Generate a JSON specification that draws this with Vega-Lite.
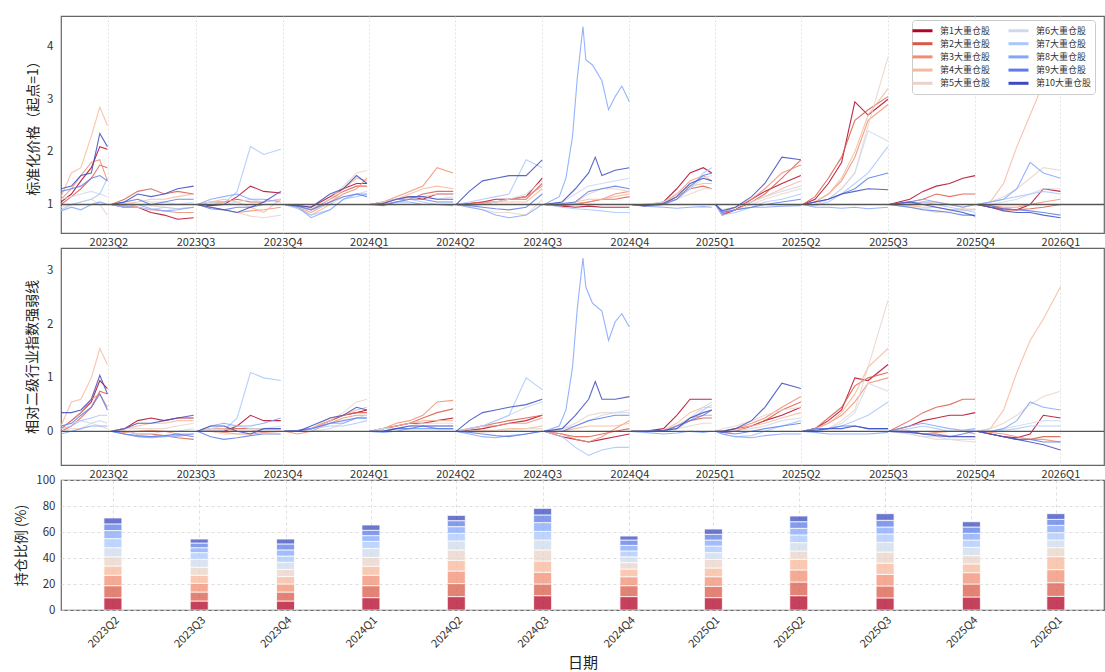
{
  "$schema": "https://vega.github.io/schema/vega-lite/v6.json",
  "padding": {"left": 13, "top": 15, "right": 0, "bottom": 0},
  "background": "white",
  "bounds": "flush",
  "spacing": 15,
  "config": {
    "font": "Noto Sans CJK SC",
    "view": {"stroke": "#666666", "strokeWidth": 1.2},
    "axis": {"ticks": false, "domain": false, "labelColor": "#333333", "titleColor": "#222222", "labelFont": "Noto Sans CJK SC", "titleFont": "Noto Sans CJK SC", "titleFontWeight": "normal"}
  },
  "resolve": {"scale": {"color": "independent"}, "legend": {"color": "independent"}},
  "datasets": {
    "px": [
      {"d":"2023-04-03","s":1,"a":1,"b":0},{"d":"2023-05-11","s":1,"a":1.05,"b":0.05},{"d":"2023-05-22","s":1,"a":1.2,"b":0.2},{"d":"2023-06-01","s":1,"a":1.45,"b":0.35},{"d":"2023-06-12","s":1,"a":1.7,"b":0.55},{"d":"2023-06-21","s":1,"a":2.1,"b":0.95},{"d":"2023-06-29","s":1,"a":2.05,"b":0.8},
      {"d":"2023-04-03","s":2,"a":1,"b":0},{"d":"2023-05-11","s":2,"a":1,"b":0},{"d":"2023-05-22","s":2,"a":1.15,"b":0.1},{"d":"2023-06-01","s":2,"a":1.3,"b":0.25},{"d":"2023-06-12","s":2,"a":1.5,"b":0.45},{"d":"2023-06-21","s":2,"a":1.75,"b":0.75},{"d":"2023-06-29","s":2,"a":1.7,"b":0.7},
      {"d":"2023-04-03","s":3,"a":1,"b":0},{"d":"2023-05-11","s":3,"a":1.1,"b":0.05},{"d":"2023-05-22","s":3,"a":1.3,"b":0.2},{"d":"2023-06-01","s":3,"a":1.55,"b":0.35},{"d":"2023-06-12","s":3,"a":1.8,"b":0.6},{"d":"2023-06-21","s":3,"a":1.85,"b":0.7},{"d":"2023-06-29","s":3,"a":1.45,"b":0.45},
      {"d":"2023-04-03","s":4,"a":1,"b":0},{"d":"2023-05-11","s":4,"a":1.15,"b":0.1},{"d":"2023-05-22","s":4,"a":1.6,"b":0.55},{"d":"2023-06-01","s":4,"a":1.7,"b":0.6},{"d":"2023-06-12","s":4,"a":2.3,"b":1},{"d":"2023-06-21","s":4,"a":2.85,"b":1.55},{"d":"2023-06-29","s":4,"a":2.5,"b":1.25},
      {"d":"2023-04-03","s":5,"a":1,"b":0},{"d":"2023-05-11","s":5,"a":0.95,"b":0},{"d":"2023-05-22","s":5,"a":1,"b":0.05},{"d":"2023-06-01","s":5,"a":1.05,"b":0.05},{"d":"2023-06-12","s":5,"a":1.1,"b":0.15},{"d":"2023-06-21","s":5,"a":1,"b":0.1},{"d":"2023-06-29","s":5,"a":0.8,"b":0.05},
      {"d":"2023-04-03","s":6,"a":1,"b":0},{"d":"2023-05-11","s":6,"a":1.1,"b":0.1},{"d":"2023-05-22","s":6,"a":1.15,"b":0.15},{"d":"2023-06-01","s":6,"a":1.2,"b":0.2},{"d":"2023-06-12","s":6,"a":1.25,"b":0.15},{"d":"2023-06-21","s":6,"a":1.2,"b":0.2},{"d":"2023-06-29","s":6,"a":1.15,"b":0.15},
      {"d":"2023-04-03","s":7,"a":1,"b":0},{"d":"2023-05-11","s":7,"a":0.9,"b":0.05},{"d":"2023-05-22","s":7,"a":1,"b":0.1},{"d":"2023-06-01","s":7,"a":1.05,"b":0.2},{"d":"2023-06-12","s":7,"a":1.1,"b":0.25},{"d":"2023-06-21","s":7,"a":1.2,"b":0.3},{"d":"2023-06-29","s":7,"a":1.5,"b":0.3},
      {"d":"2023-04-03","s":8,"a":1,"b":0},{"d":"2023-05-11","s":8,"a":0.88,"b":-0.05},{"d":"2023-05-22","s":8,"a":0.95,"b":0},{"d":"2023-06-01","s":8,"a":0.9,"b":0.05},{"d":"2023-06-12","s":8,"a":1,"b":0.1},{"d":"2023-06-21","s":8,"a":1.05,"b":0.1},{"d":"2023-06-29","s":8,"a":1,"b":0.1},
      {"d":"2023-04-03","s":9,"a":1,"b":0},{"d":"2023-05-11","s":9,"a":1.25,"b":0.1},{"d":"2023-05-22","s":9,"a":1.3,"b":0.15},{"d":"2023-06-01","s":9,"a":1.35,"b":0.3},{"d":"2023-06-12","s":9,"a":1.5,"b":0.45},{"d":"2023-06-21","s":9,"a":1.55,"b":0.7},{"d":"2023-06-29","s":9,"a":1.45,"b":0.4},
      {"d":"2023-04-03","s":10,"a":1,"b":0},{"d":"2023-05-11","s":10,"a":1.3,"b":0.35},{"d":"2023-05-22","s":10,"a":1.35,"b":0.35},{"d":"2023-06-01","s":10,"a":1.55,"b":0.4},{"d":"2023-06-12","s":10,"a":1.6,"b":0.6},{"d":"2023-06-21","s":10,"a":2.35,"b":1.05},{"d":"2023-06-29","s":10,"a":2.1,"b":0.7},

      {"d":"2023-07-03","s":1,"a":1,"b":0},{"d":"2023-07-17","s":1,"a":0.95,"b":0.05},{"d":"2023-07-31","s":1,"a":0.95,"b":0.2},{"d":"2023-08-14","s":1,"a":0.85,"b":0.25},{"d":"2023-08-28","s":1,"a":0.8,"b":0.2},{"d":"2023-09-11","s":1,"a":0.72,"b":0.25},{"d":"2023-09-28","s":1,"a":0.75,"b":0.25},
      {"d":"2023-07-03","s":2,"a":1,"b":0},{"d":"2023-07-17","s":2,"a":1.1,"b":0},{"d":"2023-07-31","s":2,"a":1.25,"b":-0.05},{"d":"2023-08-14","s":2,"a":1.3,"b":-0.05},{"d":"2023-08-28","s":2,"a":1.2,"b":-0.08},{"d":"2023-09-11","s":2,"a":1.25,"b":-0.12},{"d":"2023-09-28","s":2,"a":1.2,"b":-0.15},
      {"d":"2023-07-03","s":3,"a":1,"b":0},{"d":"2023-07-17","s":3,"a":0.98,"b":-0.02},{"d":"2023-07-31","s":3,"a":0.95,"b":0},{"d":"2023-08-14","s":3,"a":0.9,"b":0.02},{"d":"2023-08-28","s":3,"a":0.88,"b":0},{"d":"2023-09-11","s":3,"a":0.85,"b":-0.05},{"d":"2023-09-28","s":3,"a":0.85,"b":-0.05},
      {"d":"2023-07-03","s":4,"a":1,"b":0},{"d":"2023-07-17","s":4,"a":1.02,"b":0.05},{"d":"2023-07-31","s":4,"a":1.05,"b":0.1},{"d":"2023-08-14","s":4,"a":1.1,"b":0.15},{"d":"2023-08-28","s":4,"a":1.1,"b":0.15},{"d":"2023-09-11","s":4,"a":1.15,"b":0.2},{"d":"2023-09-28","s":4,"a":1.2,"b":0.2},
      {"d":"2023-07-03","s":5,"a":1,"b":0},{"d":"2023-07-17","s":5,"a":1.02,"b":0.05},{"d":"2023-07-31","s":5,"a":1,"b":0.05},{"d":"2023-08-14","s":5,"a":0.98,"b":0.05},{"d":"2023-08-28","s":5,"a":0.95,"b":0.05},{"d":"2023-09-11","s":5,"a":0.92,"b":0.1},{"d":"2023-09-28","s":5,"a":0.95,"b":0.15},
      {"d":"2023-07-03","s":6,"a":1,"b":0},{"d":"2023-07-17","s":6,"a":1.05,"b":0},{"d":"2023-07-31","s":6,"a":1.1,"b":-0.05},{"d":"2023-08-14","s":6,"a":1.05,"b":-0.05},{"d":"2023-08-28","s":6,"a":1.05,"b":0},{"d":"2023-09-11","s":6,"a":1,"b":0},{"d":"2023-09-28","s":6,"a":1.05,"b":0.05},
      {"d":"2023-07-03","s":7,"a":1,"b":0},{"d":"2023-07-17","s":7,"a":0.95,"b":-0.05},{"d":"2023-07-31","s":7,"a":0.95,"b":-0.1},{"d":"2023-08-14","s":7,"a":0.9,"b":-0.1},{"d":"2023-08-28","s":7,"a":0.95,"b":-0.08},{"d":"2023-09-11","s":7,"a":0.92,"b":-0.1},{"d":"2023-09-28","s":7,"a":0.95,"b":-0.05},
      {"d":"2023-07-03","s":8,"a":1,"b":0},{"d":"2023-07-17","s":8,"a":0.95,"b":-0.05},{"d":"2023-07-31","s":8,"a":1,"b":-0.1},{"d":"2023-08-14","s":8,"a":0.92,"b":-0.12},{"d":"2023-08-28","s":8,"a":0.88,"b":-0.1},{"d":"2023-09-11","s":8,"a":0.9,"b":-0.08},{"d":"2023-09-28","s":8,"a":0.95,"b":-0.05},
      {"d":"2023-07-03","s":9,"a":1,"b":0},{"d":"2023-07-17","s":9,"a":1.05,"b":-0.05},{"d":"2023-07-31","s":9,"a":1.1,"b":-0.08},{"d":"2023-08-14","s":9,"a":1,"b":-0.1},{"d":"2023-08-28","s":9,"a":1.05,"b":-0.08},{"d":"2023-09-11","s":9,"a":1.1,"b":-0.05},{"d":"2023-09-28","s":9,"a":1.1,"b":-0.1},
      {"d":"2023-07-03","s":10,"a":1,"b":0},{"d":"2023-07-17","s":10,"a":1.05,"b":0.05},{"d":"2023-07-31","s":10,"a":1.2,"b":0.15},{"d":"2023-08-14","s":10,"a":1.15,"b":0.15},{"d":"2023-08-28","s":10,"a":1.2,"b":0.2},{"d":"2023-09-11","s":10,"a":1.3,"b":0.25},{"d":"2023-09-28","s":10,"a":1.35,"b":0.3},

      {"d":"2023-10-02","s":1,"a":1,"b":0},{"d":"2023-10-16","s":1,"a":0.98,"b":0},{"d":"2023-10-30","s":1,"a":1,"b":0},{"d":"2023-11-13","s":1,"a":1.15,"b":0.1},{"d":"2023-11-27","s":1,"a":1.35,"b":0.3},{"d":"2023-12-11","s":1,"a":1.25,"b":0.2},{"d":"2023-12-29","s":1,"a":1.22,"b":0.2},
      {"d":"2023-10-02","s":2,"a":1,"b":0},{"d":"2023-10-16","s":2,"a":1.05,"b":0.05},{"d":"2023-10-30","s":2,"a":1.05,"b":0.05},{"d":"2023-11-13","s":2,"a":1.1,"b":0.05},{"d":"2023-11-27","s":2,"a":1.05,"b":0.05},{"d":"2023-12-11","s":2,"a":1.05,"b":0.05},{"d":"2023-12-29","s":2,"a":1.1,"b":0.05},
      {"d":"2023-10-02","s":3,"a":1,"b":0},{"d":"2023-10-16","s":3,"a":0.95,"b":0},{"d":"2023-10-30","s":3,"a":0.9,"b":-0.02},{"d":"2023-11-13","s":3,"a":0.85,"b":-0.05},{"d":"2023-11-27","s":3,"a":0.88,"b":-0.05},{"d":"2023-12-11","s":3,"a":0.9,"b":-0.02},{"d":"2023-12-29","s":3,"a":0.95,"b":0},
      {"d":"2023-10-02","s":4,"a":1,"b":0},{"d":"2023-10-16","s":4,"a":1.05,"b":0.05},{"d":"2023-10-30","s":4,"a":1.1,"b":0.05},{"d":"2023-11-13","s":4,"a":1.05,"b":0},{"d":"2023-11-27","s":4,"a":0.95,"b":0},{"d":"2023-12-11","s":4,"a":0.85,"b":0.05},{"d":"2023-12-29","s":4,"a":1.1,"b":0.05},
      {"d":"2023-10-02","s":5,"a":1,"b":0},{"d":"2023-10-16","s":5,"a":0.95,"b":0},{"d":"2023-10-30","s":5,"a":0.9,"b":-0.05},{"d":"2023-11-13","s":5,"a":0.85,"b":-0.05},{"d":"2023-11-27","s":5,"a":0.78,"b":-0.03},{"d":"2023-12-11","s":5,"a":0.75,"b":0},{"d":"2023-12-29","s":5,"a":0.8,"b":0},
      {"d":"2023-10-02","s":6,"a":1,"b":0},{"d":"2023-10-16","s":6,"a":1.05,"b":0.05},{"d":"2023-10-30","s":6,"a":1,"b":0.1},{"d":"2023-11-13","s":6,"a":1.05,"b":0.1},{"d":"2023-11-27","s":6,"a":1.1,"b":0.05},{"d":"2023-12-11","s":6,"a":1.05,"b":0.05},{"d":"2023-12-29","s":6,"a":1.1,"b":0.1},
      {"d":"2023-10-02","s":7,"a":1,"b":0},{"d":"2023-10-16","s":7,"a":1,"b":0},{"d":"2023-10-30","s":7,"a":1.02,"b":0.02},{"d":"2023-11-13","s":7,"a":1.25,"b":0.25},{"d":"2023-11-27","s":7,"a":2.1,"b":1.1},{"d":"2023-12-11","s":7,"a":1.95,"b":1},{"d":"2023-12-29","s":7,"a":2.05,"b":0.95},
      {"d":"2023-10-02","s":8,"a":1,"b":0},{"d":"2023-10-16","s":8,"a":1.1,"b":0.1},{"d":"2023-10-30","s":8,"a":1.15,"b":0.15},{"d":"2023-11-13","s":8,"a":1.2,"b":0.1},{"d":"2023-11-27","s":8,"a":1.1,"b":0.1},{"d":"2023-12-11","s":8,"a":1.1,"b":0.15},{"d":"2023-12-29","s":8,"a":1.05,"b":0.25},
      {"d":"2023-10-02","s":9,"a":1,"b":0},{"d":"2023-10-16","s":9,"a":0.92,"b":-0.1},{"d":"2023-10-30","s":9,"a":0.9,"b":-0.15},{"d":"2023-11-13","s":9,"a":0.95,"b":-0.12},{"d":"2023-11-27","s":9,"a":0.95,"b":-0.08},{"d":"2023-12-11","s":9,"a":1,"b":-0.05},{"d":"2023-12-29","s":9,"a":1,"b":-0.05},
      {"d":"2023-10-02","s":10,"a":1,"b":0},{"d":"2023-10-16","s":10,"a":0.95,"b":0.1},{"d":"2023-10-30","s":10,"a":0.9,"b":0.1},{"d":"2023-11-13","s":10,"a":0.85,"b":0},{"d":"2023-11-27","s":10,"a":0.95,"b":-0.05},{"d":"2023-12-11","s":10,"a":1.05,"b":0.05},{"d":"2023-12-29","s":10,"a":1.25,"b":0.05},

      {"d":"2024-01-02","s":1,"a":1,"b":0},{"d":"2024-01-16","s":1,"a":0.98,"b":0},{"d":"2024-01-30","s":1,"a":0.95,"b":0.05},{"d":"2024-02-19","s":1,"a":1.15,"b":0.2},{"d":"2024-03-04","s":1,"a":1.3,"b":0.3},{"d":"2024-03-18","s":1,"a":1.4,"b":0.35},{"d":"2024-03-29","s":1,"a":1.4,"b":0.4},
      {"d":"2024-01-02","s":2,"a":1,"b":0},{"d":"2024-01-16","s":2,"a":0.97,"b":0},{"d":"2024-01-30","s":2,"a":0.9,"b":0.05},{"d":"2024-02-19","s":2,"a":1.1,"b":0.2},{"d":"2024-03-04","s":2,"a":1.25,"b":0.3},{"d":"2024-03-18","s":2,"a":1.35,"b":0.35},{"d":"2024-03-29","s":2,"a":1.35,"b":0.35},
      {"d":"2024-01-02","s":3,"a":1,"b":0},{"d":"2024-01-16","s":3,"a":0.95,"b":-0.05},{"d":"2024-01-30","s":3,"a":0.85,"b":0},{"d":"2024-02-19","s":3,"a":1.05,"b":0.15},{"d":"2024-03-04","s":3,"a":1.2,"b":0.25},{"d":"2024-03-18","s":3,"a":1.3,"b":0.3},{"d":"2024-03-29","s":3,"a":1.5,"b":0.3},
      {"d":"2024-01-02","s":4,"a":1,"b":0},{"d":"2024-01-16","s":4,"a":0.95,"b":0},{"d":"2024-01-30","s":4,"a":0.8,"b":0.05},{"d":"2024-02-19","s":4,"a":1,"b":0.25},{"d":"2024-03-04","s":4,"a":1.3,"b":0.3},{"d":"2024-03-18","s":4,"a":1.5,"b":0.4},{"d":"2024-03-29","s":4,"a":1.45,"b":0.45},
      {"d":"2024-01-02","s":5,"a":1,"b":0},{"d":"2024-01-16","s":5,"a":0.98,"b":0},{"d":"2024-01-30","s":5,"a":0.92,"b":0.05},{"d":"2024-02-19","s":5,"a":1.1,"b":0.2},{"d":"2024-03-04","s":5,"a":1.35,"b":0.35},{"d":"2024-03-18","s":5,"a":1.6,"b":0.55},{"d":"2024-03-29","s":5,"a":1.65,"b":0.6},
      {"d":"2024-01-02","s":6,"a":1,"b":0},{"d":"2024-01-16","s":6,"a":0.95,"b":0},{"d":"2024-01-30","s":6,"a":0.9,"b":0},{"d":"2024-02-19","s":6,"a":1,"b":0.05},{"d":"2024-03-04","s":6,"a":1.15,"b":0.15},{"d":"2024-03-18","s":6,"a":1.2,"b":0.25},{"d":"2024-03-29","s":6,"a":1.25,"b":0.3},
      {"d":"2024-01-02","s":7,"a":1,"b":0},{"d":"2024-01-16","s":7,"a":0.92,"b":0},{"d":"2024-01-30","s":7,"a":0.8,"b":0.05},{"d":"2024-02-19","s":7,"a":0.9,"b":0.1},{"d":"2024-03-04","s":7,"a":1.1,"b":0.1},{"d":"2024-03-18","s":7,"a":1.15,"b":0.15},{"d":"2024-03-29","s":7,"a":1.2,"b":0.2},
      {"d":"2024-01-02","s":8,"a":1,"b":0},{"d":"2024-01-16","s":8,"a":0.95,"b":0},{"d":"2024-01-30","s":8,"a":0.75,"b":0.05},{"d":"2024-02-19","s":8,"a":0.9,"b":0.15},{"d":"2024-03-04","s":8,"a":1.1,"b":0.15},{"d":"2024-03-18","s":8,"a":1.2,"b":0.25},{"d":"2024-03-29","s":8,"a":1.2,"b":0.25},
      {"d":"2024-01-02","s":9,"a":1,"b":0},{"d":"2024-01-16","s":9,"a":0.97,"b":0.02},{"d":"2024-01-30","s":9,"a":0.9,"b":0.05},{"d":"2024-02-19","s":9,"a":1.05,"b":0.15},{"d":"2024-03-04","s":9,"a":1.15,"b":0.2},{"d":"2024-03-18","s":9,"a":1.2,"b":0.25},{"d":"2024-03-29","s":9,"a":1.15,"b":0.25},
      {"d":"2024-01-02","s":10,"a":1,"b":0},{"d":"2024-01-16","s":10,"a":0.98,"b":0},{"d":"2024-01-30","s":10,"a":0.95,"b":0.1},{"d":"2024-02-19","s":10,"a":1.2,"b":0.25},{"d":"2024-03-04","s":10,"a":1.3,"b":0.3},{"d":"2024-03-18","s":10,"a":1.55,"b":0.45},{"d":"2024-03-29","s":10,"a":1.4,"b":0.4},

      {"d":"2024-04-01","s":1,"a":1,"b":0},{"d":"2024-04-15","s":1,"a":1.05,"b":0.05},{"d":"2024-04-29","s":1,"a":1.1,"b":0.1},{"d":"2024-05-13","s":1,"a":1.15,"b":0.15},{"d":"2024-05-27","s":1,"a":1.1,"b":0.15},{"d":"2024-06-11","s":1,"a":1.2,"b":0.2},{"d":"2024-06-28","s":1,"a":1.2,"b":0.25},
      {"d":"2024-04-01","s":2,"a":1,"b":0},{"d":"2024-04-15","s":2,"a":1.02,"b":0.05},{"d":"2024-04-29","s":2,"a":1.1,"b":0.1},{"d":"2024-05-13","s":2,"a":1.1,"b":0.15},{"d":"2024-05-27","s":2,"a":1.2,"b":0.25},{"d":"2024-06-11","s":2,"a":1.25,"b":0.35},{"d":"2024-06-28","s":2,"a":1.25,"b":0.42},
      {"d":"2024-04-01","s":3,"a":1,"b":0},{"d":"2024-04-15","s":3,"a":1.05,"b":0.05},{"d":"2024-04-29","s":3,"a":1.15,"b":0.15},{"d":"2024-05-13","s":3,"a":1.25,"b":0.2},{"d":"2024-05-27","s":3,"a":1.35,"b":0.3},{"d":"2024-06-11","s":3,"a":1.7,"b":0.55},{"d":"2024-06-28","s":3,"a":1.6,"b":0.58},
      {"d":"2024-04-01","s":4,"a":1,"b":0},{"d":"2024-04-15","s":4,"a":1.05,"b":0.05},{"d":"2024-04-29","s":4,"a":1.1,"b":0.1},{"d":"2024-05-13","s":4,"a":1.2,"b":0.15},{"d":"2024-05-27","s":4,"a":1.3,"b":0.2},{"d":"2024-06-11","s":4,"a":1.35,"b":0.2},{"d":"2024-06-28","s":4,"a":1.3,"b":0.2},
      {"d":"2024-04-01","s":5,"a":1,"b":0},{"d":"2024-04-15","s":5,"a":1,"b":0.05},{"d":"2024-04-29","s":5,"a":1.05,"b":0.05},{"d":"2024-05-13","s":5,"a":1.1,"b":0.1},{"d":"2024-05-27","s":5,"a":1.15,"b":0.15},{"d":"2024-06-11","s":5,"a":1.2,"b":0.15},{"d":"2024-06-28","s":5,"a":1.2,"b":0.15},
      {"d":"2024-04-01","s":6,"a":1,"b":0},{"d":"2024-04-15","s":6,"a":1.05,"b":0.05},{"d":"2024-04-29","s":6,"a":1.1,"b":0.05},{"d":"2024-05-13","s":6,"a":1.15,"b":0.1},{"d":"2024-05-27","s":6,"a":1.15,"b":0.1},{"d":"2024-06-11","s":6,"a":1.1,"b":0.1},{"d":"2024-06-28","s":6,"a":1.15,"b":0.1},
      {"d":"2024-04-01","s":7,"a":1,"b":0},{"d":"2024-04-15","s":7,"a":1,"b":0},{"d":"2024-04-29","s":7,"a":1.05,"b":0.05},{"d":"2024-05-13","s":7,"a":1.1,"b":0.05},{"d":"2024-05-27","s":7,"a":1.05,"b":0.05},{"d":"2024-06-11","s":7,"a":1,"b":0.05},{"d":"2024-06-28","s":7,"a":1,"b":0.05},
      {"d":"2024-04-01","s":8,"a":1,"b":0},{"d":"2024-04-15","s":8,"a":1,"b":-0.02},{"d":"2024-04-29","s":8,"a":1.05,"b":0},{"d":"2024-05-13","s":8,"a":1.05,"b":0.05},{"d":"2024-05-27","s":8,"a":1,"b":0.05},{"d":"2024-06-11","s":8,"a":1,"b":0.05},{"d":"2024-06-28","s":8,"a":0.98,"b":0.05},
      {"d":"2024-04-01","s":9,"a":1,"b":0},{"d":"2024-04-15","s":9,"a":0.98,"b":0},{"d":"2024-04-29","s":9,"a":1.05,"b":0.05},{"d":"2024-05-13","s":9,"a":1.1,"b":0.05},{"d":"2024-05-27","s":9,"a":1.1,"b":0.1},{"d":"2024-06-11","s":9,"a":1.05,"b":0.05},{"d":"2024-06-28","s":9,"a":1.05,"b":0.05},
      {"d":"2024-04-01","s":10,"a":1,"b":0},{"d":"2024-04-15","s":10,"a":1.02,"b":0},{"d":"2024-04-29","s":10,"a":1.1,"b":0.05},{"d":"2024-05-13","s":10,"a":1.15,"b":0.1},{"d":"2024-05-27","s":10,"a":1.15,"b":0.1},{"d":"2024-06-11","s":10,"a":1.1,"b":0.1},{"d":"2024-06-28","s":10,"a":1.1,"b":0.1},

      {"d":"2024-07-01","s":1,"a":1,"b":0},{"d":"2024-07-15","s":1,"a":1.02,"b":0.02},{"d":"2024-07-29","s":1,"a":1.05,"b":0.05},{"d":"2024-08-12","s":1,"a":1.1,"b":0.1},{"d":"2024-08-26","s":1,"a":1.1,"b":0.15},{"d":"2024-09-13","s":1,"a":1.15,"b":0.2},{"d":"2024-09-30","s":1,"a":1.5,"b":0.3},
      {"d":"2024-07-01","s":2,"a":1,"b":0},{"d":"2024-07-15","s":2,"a":1.02,"b":0.05},{"d":"2024-07-29","s":2,"a":1.05,"b":0.1},{"d":"2024-08-12","s":2,"a":1.05,"b":0.15},{"d":"2024-08-26","s":2,"a":1.1,"b":0.2},{"d":"2024-09-13","s":2,"a":1.1,"b":0.25},{"d":"2024-09-30","s":2,"a":1.4,"b":0.3},
      {"d":"2024-07-01","s":3,"a":1,"b":0},{"d":"2024-07-15","s":3,"a":1,"b":0.05},{"d":"2024-07-29","s":3,"a":1.02,"b":0.1},{"d":"2024-08-12","s":3,"a":1.05,"b":0.1},{"d":"2024-08-26","s":3,"a":1.1,"b":0.15},{"d":"2024-09-13","s":3,"a":1.15,"b":0.15},{"d":"2024-09-30","s":3,"a":1.35,"b":0.25},
      {"d":"2024-07-01","s":4,"a":1,"b":0},{"d":"2024-07-15","s":4,"a":0.98,"b":0},{"d":"2024-07-29","s":4,"a":1,"b":0.02},{"d":"2024-08-12","s":4,"a":1.05,"b":0.02},{"d":"2024-08-26","s":4,"a":1.05,"b":0.05},{"d":"2024-09-13","s":4,"a":1.05,"b":0.05},{"d":"2024-09-30","s":4,"a":1.3,"b":0.1},
      {"d":"2024-07-01","s":5,"a":1,"b":0},{"d":"2024-07-15","s":5,"a":0.95,"b":0},{"d":"2024-07-29","s":5,"a":0.9,"b":-0.02},{"d":"2024-08-12","s":5,"a":0.85,"b":0},{"d":"2024-08-26","s":5,"a":0.85,"b":0.02},{"d":"2024-09-13","s":5,"a":0.8,"b":0.05},{"d":"2024-09-30","s":5,"a":1.1,"b":0.05},
      {"d":"2024-07-01","s":6,"a":1,"b":0},{"d":"2024-07-15","s":6,"a":0.98,"b":0.05},{"d":"2024-07-29","s":6,"a":1,"b":0.1},{"d":"2024-08-12","s":6,"a":1.05,"b":0.2},{"d":"2024-08-26","s":6,"a":1.1,"b":0.3},{"d":"2024-09-13","s":6,"a":1.2,"b":0.45},{"d":"2024-09-30","s":6,"a":1.45,"b":0.55},
      {"d":"2024-07-01","s":7,"a":1,"b":0},{"d":"2024-07-15","s":7,"a":1.05,"b":0.05},{"d":"2024-07-29","s":7,"a":1.1,"b":0.1},{"d":"2024-08-12","s":7,"a":1.15,"b":0.2},{"d":"2024-08-26","s":7,"a":1.2,"b":0.3},{"d":"2024-09-13","s":7,"a":1.85,"b":1},{"d":"2024-09-30","s":7,"a":1.7,"b":0.78},
      {"d":"2024-07-01","s":8,"a":1,"b":0},{"d":"2024-07-15","s":8,"a":0.95,"b":-0.05},{"d":"2024-07-29","s":8,"a":0.9,"b":-0.1},{"d":"2024-08-12","s":8,"a":0.8,"b":-0.12},{"d":"2024-08-26","s":8,"a":0.75,"b":-0.08},{"d":"2024-09-13","s":8,"a":0.8,"b":-0.05},{"d":"2024-09-30","s":8,"a":1,"b":0},
      {"d":"2024-07-01","s":9,"a":1,"b":0},{"d":"2024-07-15","s":9,"a":0.98,"b":-0.02},{"d":"2024-07-29","s":9,"a":0.95,"b":-0.05},{"d":"2024-08-12","s":9,"a":0.92,"b":-0.08},{"d":"2024-08-26","s":9,"a":0.9,"b":-0.1},{"d":"2024-09-13","s":9,"a":0.95,"b":-0.05},{"d":"2024-09-30","s":9,"a":1.2,"b":0},
      {"d":"2024-07-01","s":10,"a":1,"b":0},{"d":"2024-07-15","s":10,"a":1.25,"b":0.2},{"d":"2024-07-29","s":10,"a":1.45,"b":0.35},{"d":"2024-08-12","s":10,"a":1.5,"b":0.4},{"d":"2024-08-26","s":10,"a":1.55,"b":0.45},{"d":"2024-09-13","s":10,"a":1.55,"b":0.5},{"d":"2024-09-30","s":10,"a":1.85,"b":0.6},

      {"d":"2024-10-02","s":1,"a":1,"b":0},{"d":"2024-10-21","s":1,"a":0.97,"b":-0.1},{"d":"2024-11-04","s":1,"a":0.95,"b":-0.15},{"d":"2024-11-18","s":1,"a":0.97,"b":-0.2},{"d":"2024-12-02","s":1,"a":0.95,"b":-0.15},{"d":"2024-12-16","s":1,"a":0.95,"b":-0.1},{"d":"2024-12-31","s":1,"a":0.95,"b":-0.05},
      {"d":"2024-10-02","s":2,"a":1,"b":0},{"d":"2024-10-21","s":2,"a":0.98,"b":-0.05},{"d":"2024-11-04","s":2,"a":1,"b":-0.1},{"d":"2024-11-18","s":2,"a":1.05,"b":-0.1},{"d":"2024-12-02","s":2,"a":1.1,"b":-0.05},{"d":"2024-12-16","s":2,"a":1.1,"b":0},{"d":"2024-12-31","s":2,"a":1.15,"b":0.05},
      {"d":"2024-10-02","s":3,"a":1,"b":0},{"d":"2024-10-21","s":3,"a":1,"b":-0.05},{"d":"2024-11-04","s":3,"a":1.02,"b":-0.15},{"d":"2024-11-18","s":3,"a":1.05,"b":-0.2},{"d":"2024-12-02","s":3,"a":1.1,"b":-0.1},{"d":"2024-12-16","s":3,"a":1.2,"b":0.05},{"d":"2024-12-31","s":3,"a":1.25,"b":0.2},
      {"d":"2024-10-02","s":4,"a":1,"b":0},{"d":"2024-10-21","s":4,"a":1,"b":0},{"d":"2024-11-04","s":4,"a":1.05,"b":0.05},{"d":"2024-11-18","s":4,"a":1.1,"b":0.1},{"d":"2024-12-02","s":4,"a":1.1,"b":0.1},{"d":"2024-12-16","s":4,"a":1.15,"b":0.1},{"d":"2024-12-31","s":4,"a":1.2,"b":0.15},
      {"d":"2024-10-02","s":5,"a":1,"b":0},{"d":"2024-10-21","s":5,"a":1,"b":0.05},{"d":"2024-11-04","s":5,"a":1.05,"b":0.15},{"d":"2024-11-18","s":5,"a":1.2,"b":0.3},{"d":"2024-12-02","s":5,"a":1.3,"b":0.35},{"d":"2024-12-16","s":5,"a":1.3,"b":0.35},{"d":"2024-12-31","s":5,"a":1.25,"b":0.4},
      {"d":"2024-10-02","s":6,"a":1,"b":0},{"d":"2024-10-21","s":6,"a":1.05,"b":0.05},{"d":"2024-11-04","s":6,"a":1.2,"b":0.1},{"d":"2024-11-18","s":6,"a":1.35,"b":0.2},{"d":"2024-12-02","s":6,"a":1.4,"b":0.3},{"d":"2024-12-16","s":6,"a":1.45,"b":0.35},{"d":"2024-12-31","s":6,"a":1.5,"b":0.35},
      {"d":"2024-10-02","s":7,"a":1,"b":0},{"d":"2024-10-21","s":7,"a":0.95,"b":-0.1},{"d":"2024-11-04","s":7,"a":0.92,"b":-0.3},{"d":"2024-11-18","s":7,"a":0.9,"b":-0.45},{"d":"2024-12-02","s":7,"a":0.88,"b":-0.35},{"d":"2024-12-16","s":7,"a":0.85,"b":-0.3},{"d":"2024-12-31","s":7,"a":0.85,"b":-0.3},
      {"d":"2024-10-02","s":8,"a":1,"b":0},{"d":"2024-10-18","s":8,"a":1.15,"b":0.1},{"d":"2024-10-25","s":8,"a":1.5,"b":0.4},{"d":"2024-11-01","s":8,"a":2.3,"b":1.2},{"d":"2024-11-06","s":8,"a":3.4,"b":2.3},{"d":"2024-11-12","s":8,"a":4.38,"b":3.24},{"d":"2024-11-15","s":8,"a":3.75,"b":2.7},{"d":"2024-11-22","s":8,"a":3.65,"b":2.4},{"d":"2024-12-02","s":8,"a":3.35,"b":2.25},{"d":"2024-12-09","s":8,"a":2.8,"b":1.7},{"d":"2024-12-16","s":8,"a":3.05,"b":2.05},{"d":"2024-12-23","s":8,"a":3.25,"b":2.2},{"d":"2024-12-31","s":8,"a":2.95,"b":1.95},
      {"d":"2024-10-02","s":9,"a":1,"b":0},{"d":"2024-10-21","s":9,"a":1.02,"b":0},{"d":"2024-11-04","s":9,"a":1.05,"b":0.1},{"d":"2024-11-18","s":9,"a":1.25,"b":0.2},{"d":"2024-12-02","s":9,"a":1.3,"b":0.25},{"d":"2024-12-16","s":9,"a":1.35,"b":0.3},{"d":"2024-12-31","s":9,"a":1.3,"b":0.3},
      {"d":"2024-10-02","s":10,"a":1,"b":0},{"d":"2024-10-21","s":10,"a":1.05,"b":0.05},{"d":"2024-11-04","s":10,"a":1.3,"b":0.3},{"d":"2024-11-18","s":10,"a":1.6,"b":0.6},{"d":"2024-11-25","s":10,"a":1.9,"b":0.93},{"d":"2024-12-02","s":10,"a":1.55,"b":0.6},{"d":"2024-12-16","s":10,"a":1.65,"b":0.6},{"d":"2024-12-31","s":10,"a":1.7,"b":0.65},

      {"d":"2025-01-02","s":1,"a":1,"b":0},{"d":"2025-01-16","s":1,"a":0.98,"b":0},{"d":"2025-02-05","s":1,"a":1.05,"b":0.05},{"d":"2025-02-19","s":1,"a":1.3,"b":0.3},{"d":"2025-03-05","s":1,"a":1.6,"b":0.6},{"d":"2025-03-19","s":1,"a":1.7,"b":0.6},{"d":"2025-03-28","s":1,"a":1.6,"b":0.6},
      {"d":"2025-01-02","s":2,"a":1,"b":0},{"d":"2025-01-16","s":2,"a":0.97,"b":0},{"d":"2025-02-05","s":2,"a":1,"b":0},{"d":"2025-02-19","s":2,"a":1.15,"b":0.1},{"d":"2025-03-05","s":2,"a":1.3,"b":0.2},{"d":"2025-03-19","s":2,"a":1.35,"b":0.25},{"d":"2025-03-28","s":2,"a":1.3,"b":0.25},
      {"d":"2025-01-02","s":3,"a":1,"b":0},{"d":"2025-01-16","s":3,"a":1,"b":0},{"d":"2025-02-05","s":3,"a":1.02,"b":0.02},{"d":"2025-02-19","s":3,"a":1.2,"b":0.1},{"d":"2025-03-05","s":3,"a":1.45,"b":0.25},{"d":"2025-03-19","s":3,"a":1.55,"b":0.3},{"d":"2025-03-28","s":3,"a":1.45,"b":0.3},
      {"d":"2025-01-02","s":4,"a":1,"b":0},{"d":"2025-01-16","s":4,"a":1,"b":0},{"d":"2025-02-05","s":4,"a":1.05,"b":0.02},{"d":"2025-02-19","s":4,"a":1.2,"b":0.15},{"d":"2025-03-05","s":4,"a":1.35,"b":0.35},{"d":"2025-03-19","s":4,"a":1.4,"b":0.45},{"d":"2025-03-28","s":4,"a":1.4,"b":0.45},
      {"d":"2025-01-02","s":5,"a":1,"b":0},{"d":"2025-01-16","s":5,"a":0.98,"b":0},{"d":"2025-02-05","s":5,"a":1,"b":0},{"d":"2025-02-19","s":5,"a":1.1,"b":0.05},{"d":"2025-03-05","s":5,"a":1.2,"b":0.1},{"d":"2025-03-19","s":5,"a":1.3,"b":0.15},{"d":"2025-03-28","s":5,"a":1.3,"b":0.15},
      {"d":"2025-01-02","s":6,"a":1,"b":0},{"d":"2025-01-16","s":6,"a":1,"b":0},{"d":"2025-02-05","s":6,"a":1.05,"b":0.02},{"d":"2025-02-19","s":6,"a":1.15,"b":0.1},{"d":"2025-03-05","s":6,"a":1.3,"b":0.25},{"d":"2025-03-19","s":6,"a":1.5,"b":0.45},{"d":"2025-03-28","s":6,"a":1.55,"b":0.55},
      {"d":"2025-01-02","s":7,"a":1,"b":0},{"d":"2025-01-16","s":7,"a":1,"b":0},{"d":"2025-02-05","s":7,"a":1.02,"b":0},{"d":"2025-02-19","s":7,"a":1.1,"b":0.05},{"d":"2025-03-05","s":7,"a":1.3,"b":0.2},{"d":"2025-03-19","s":7,"a":1.6,"b":0.4},{"d":"2025-03-28","s":7,"a":1.7,"b":0.5},
      {"d":"2025-01-02","s":8,"a":1,"b":0},{"d":"2025-01-16","s":8,"a":0.97,"b":-0.02},{"d":"2025-02-05","s":8,"a":0.95,"b":-0.05},{"d":"2025-02-19","s":8,"a":0.93,"b":-0.03},{"d":"2025-03-05","s":8,"a":0.95,"b":0},{"d":"2025-03-19","s":8,"a":0.96,"b":-0.02},{"d":"2025-03-28","s":8,"a":0.95,"b":0},
      {"d":"2025-01-02","s":9,"a":1,"b":0},{"d":"2025-01-16","s":9,"a":0.98,"b":0},{"d":"2025-02-05","s":9,"a":1,"b":0},{"d":"2025-02-19","s":9,"a":1.1,"b":0.1},{"d":"2025-03-05","s":9,"a":1.35,"b":0.2},{"d":"2025-03-19","s":9,"a":1.55,"b":0.3},{"d":"2025-03-28","s":9,"a":1.6,"b":0.4},
      {"d":"2025-01-02","s":10,"a":1,"b":0},{"d":"2025-01-16","s":10,"a":0.98,"b":0},{"d":"2025-02-05","s":10,"a":1.02,"b":0.02},{"d":"2025-02-19","s":10,"a":1.15,"b":0.05},{"d":"2025-03-05","s":10,"a":1.4,"b":0.25},{"d":"2025-03-19","s":10,"a":1.5,"b":0.35},{"d":"2025-03-28","s":10,"a":1.45,"b":0.4},

      {"d":"2025-04-01","s":1,"a":1,"b":0},{"d":"2025-04-08","s":1,"a":0.8,"b":-0.02},{"d":"2025-04-22","s":1,"a":0.9,"b":0},{"d":"2025-05-09","s":1,"a":1.1,"b":0.1},{"d":"2025-05-23","s":1,"a":1.25,"b":0.2},{"d":"2025-06-10","s":1,"a":1.4,"b":0.3},{"d":"2025-06-30","s":1,"a":1.55,"b":0.45},
      {"d":"2025-04-01","s":2,"a":1,"b":0},{"d":"2025-04-08","s":2,"a":0.82,"b":0},{"d":"2025-04-22","s":2,"a":0.9,"b":0.05},{"d":"2025-05-09","s":2,"a":1.05,"b":0.1},{"d":"2025-05-23","s":2,"a":1.2,"b":0.2},{"d":"2025-06-10","s":2,"a":1.5,"b":0.4},{"d":"2025-06-30","s":2,"a":1.85,"b":0.55},
      {"d":"2025-04-01","s":3,"a":1,"b":0},{"d":"2025-04-08","s":3,"a":0.85,"b":0},{"d":"2025-04-22","s":3,"a":0.95,"b":0.05},{"d":"2025-05-09","s":3,"a":1.1,"b":0.15},{"d":"2025-05-23","s":3,"a":1.3,"b":0.25},{"d":"2025-06-10","s":3,"a":1.6,"b":0.45},{"d":"2025-06-30","s":3,"a":1.75,"b":0.65},
      {"d":"2025-04-01","s":4,"a":1,"b":0},{"d":"2025-04-08","s":4,"a":0.9,"b":0},{"d":"2025-04-22","s":4,"a":0.95,"b":0.02},{"d":"2025-05-09","s":4,"a":1.05,"b":0.1},{"d":"2025-05-23","s":4,"a":1.15,"b":0.15},{"d":"2025-06-10","s":4,"a":1.3,"b":0.25},{"d":"2025-06-30","s":4,"a":1.45,"b":0.35},
      {"d":"2025-04-01","s":5,"a":1,"b":0},{"d":"2025-04-08","s":5,"a":0.85,"b":0.05},{"d":"2025-04-22","s":5,"a":0.9,"b":0.1},{"d":"2025-05-09","s":5,"a":1,"b":0.2},{"d":"2025-05-23","s":5,"a":1.1,"b":0.3},{"d":"2025-06-10","s":5,"a":1.2,"b":0.4},{"d":"2025-06-30","s":5,"a":1.3,"b":0.45},
      {"d":"2025-04-01","s":6,"a":1,"b":0},{"d":"2025-04-08","s":6,"a":0.9,"b":0},{"d":"2025-04-22","s":6,"a":0.95,"b":0.02},{"d":"2025-05-09","s":6,"a":1.05,"b":0.05},{"d":"2025-05-23","s":6,"a":1.15,"b":0.1},{"d":"2025-06-10","s":6,"a":1.25,"b":0.2},{"d":"2025-06-30","s":6,"a":1.35,"b":0.25},
      {"d":"2025-04-01","s":7,"a":1,"b":0},{"d":"2025-04-08","s":7,"a":0.8,"b":-0.05},{"d":"2025-04-22","s":7,"a":0.85,"b":-0.1},{"d":"2025-05-09","s":7,"a":0.95,"b":-0.08},{"d":"2025-05-23","s":7,"a":1.05,"b":0},{"d":"2025-06-10","s":7,"a":1.1,"b":0.1},{"d":"2025-06-30","s":7,"a":1.2,"b":0.2},
      {"d":"2025-04-01","s":8,"a":1,"b":0},{"d":"2025-04-08","s":8,"a":0.85,"b":-0.05},{"d":"2025-04-22","s":8,"a":0.9,"b":-0.1},{"d":"2025-05-09","s":8,"a":0.95,"b":-0.12},{"d":"2025-05-23","s":8,"a":0.95,"b":-0.08},{"d":"2025-06-10","s":8,"a":0.97,"b":-0.05},{"d":"2025-06-30","s":8,"a":0.98,"b":-0.05},
      {"d":"2025-04-01","s":9,"a":1,"b":0},{"d":"2025-04-08","s":9,"a":0.85,"b":-0.02},{"d":"2025-04-22","s":9,"a":0.9,"b":-0.05},{"d":"2025-05-09","s":9,"a":0.95,"b":0},{"d":"2025-05-23","s":9,"a":1,"b":0.05},{"d":"2025-06-10","s":9,"a":1.05,"b":0.1},{"d":"2025-06-30","s":9,"a":1.1,"b":0.15},
      {"d":"2025-04-01","s":10,"a":1,"b":0},{"d":"2025-04-08","s":10,"a":0.88,"b":0},{"d":"2025-04-22","s":10,"a":0.95,"b":0.05},{"d":"2025-05-09","s":10,"a":1.15,"b":0.2},{"d":"2025-05-23","s":10,"a":1.4,"b":0.45},{"d":"2025-06-10","s":10,"a":1.9,"b":0.9},{"d":"2025-06-30","s":10,"a":1.85,"b":0.8},

      {"d":"2025-07-02","s":1,"a":1,"b":0},{"d":"2025-07-15","s":1,"a":1.1,"b":0.05},{"d":"2025-07-29","s":1,"a":1.4,"b":0.2},{"d":"2025-08-12","s":1,"a":1.8,"b":0.4},{"d":"2025-08-26","s":1,"a":2.95,"b":1},{"d":"2025-09-09","s":1,"a":2.7,"b":0.95},{"d":"2025-09-30","s":1,"a":3,"b":1.25},
      {"d":"2025-07-02","s":2,"a":1,"b":0},{"d":"2025-07-15","s":2,"a":1.15,"b":0.05},{"d":"2025-07-29","s":2,"a":1.5,"b":0.25},{"d":"2025-08-12","s":2,"a":1.9,"b":0.45},{"d":"2025-08-26","s":2,"a":2.6,"b":0.85},{"d":"2025-09-09","s":2,"a":2.8,"b":1},{"d":"2025-09-30","s":2,"a":3.05,"b":1.1},
      {"d":"2025-07-02","s":3,"a":1,"b":0},{"d":"2025-07-15","s":3,"a":1.05,"b":0.05},{"d":"2025-07-29","s":3,"a":1.2,"b":0.15},{"d":"2025-08-12","s":3,"a":1.45,"b":0.3},{"d":"2025-08-26","s":3,"a":1.9,"b":0.55},{"d":"2025-09-09","s":3,"a":2.6,"b":0.9},{"d":"2025-09-30","s":3,"a":2.9,"b":1},
      {"d":"2025-07-02","s":4,"a":1,"b":0},{"d":"2025-07-15","s":4,"a":1.05,"b":0.05},{"d":"2025-07-29","s":4,"a":1.2,"b":0.15},{"d":"2025-08-12","s":4,"a":1.5,"b":0.35},{"d":"2025-08-26","s":4,"a":2,"b":0.7},{"d":"2025-09-09","s":4,"a":2.7,"b":1.2},{"d":"2025-09-30","s":4,"a":3.2,"b":1.55},
      {"d":"2025-07-02","s":5,"a":1,"b":0},{"d":"2025-07-15","s":5,"a":1,"b":0},{"d":"2025-07-29","s":5,"a":1.1,"b":0.05},{"d":"2025-08-12","s":5,"a":1.3,"b":0.2},{"d":"2025-08-26","s":5,"a":1.6,"b":0.4},{"d":"2025-09-09","s":5,"a":2.5,"b":1.2},{"d":"2025-09-30","s":5,"a":3.8,"b":2.45},
      {"d":"2025-07-02","s":6,"a":1,"b":0},{"d":"2025-07-15","s":6,"a":1,"b":0},{"d":"2025-07-29","s":6,"a":1.1,"b":0.05},{"d":"2025-08-12","s":6,"a":1.3,"b":0.15},{"d":"2025-08-26","s":6,"a":1.6,"b":0.35},{"d":"2025-09-09","s":6,"a":2.4,"b":0.9},{"d":"2025-09-30","s":6,"a":2.2,"b":0.75},
      {"d":"2025-07-02","s":7,"a":1,"b":0},{"d":"2025-07-15","s":7,"a":0.98,"b":0},{"d":"2025-07-29","s":7,"a":1.05,"b":0.05},{"d":"2025-08-12","s":7,"a":1.2,"b":0.1},{"d":"2025-08-26","s":7,"a":1.4,"b":0.2},{"d":"2025-09-09","s":7,"a":1.6,"b":0.3},{"d":"2025-09-30","s":7,"a":2.1,"b":0.55},
      {"d":"2025-07-02","s":8,"a":1,"b":0},{"d":"2025-07-15","s":8,"a":0.95,"b":-0.02},{"d":"2025-07-29","s":8,"a":0.95,"b":-0.05},{"d":"2025-08-12","s":8,"a":0.93,"b":-0.05},{"d":"2025-08-26","s":8,"a":0.95,"b":-0.05},{"d":"2025-09-09","s":8,"a":0.92,"b":-0.05},{"d":"2025-09-30","s":8,"a":0.95,"b":-0.02},
      {"d":"2025-07-02","s":9,"a":1,"b":0},{"d":"2025-07-15","s":9,"a":1.05,"b":0.05},{"d":"2025-07-29","s":9,"a":1.1,"b":0.05},{"d":"2025-08-12","s":9,"a":1.2,"b":0.1},{"d":"2025-08-26","s":9,"a":1.3,"b":0.1},{"d":"2025-09-09","s":9,"a":1.5,"b":0.05},{"d":"2025-09-30","s":9,"a":1.6,"b":0.05},
      {"d":"2025-07-02","s":10,"a":1,"b":0},{"d":"2025-07-15","s":10,"a":1.05,"b":0.02},{"d":"2025-07-29","s":10,"a":1.1,"b":0.05},{"d":"2025-08-12","s":10,"a":1.2,"b":0.05},{"d":"2025-08-26","s":10,"a":1.25,"b":0.1},{"d":"2025-09-09","s":10,"a":1.3,"b":0.05},{"d":"2025-09-30","s":10,"a":1.28,"b":0.05},

      {"d":"2025-10-01","s":1,"a":1,"b":0},{"d":"2025-10-23","s":1,"a":1.1,"b":0.1},{"d":"2025-11-06","s":1,"a":1.25,"b":0.2},{"d":"2025-11-20","s":1,"a":1.35,"b":0.25},{"d":"2025-12-04","s":1,"a":1.4,"b":0.3},{"d":"2025-12-18","s":1,"a":1.5,"b":0.3},{"d":"2025-12-31","s":1,"a":1.55,"b":0.35},
      {"d":"2025-10-01","s":2,"a":1,"b":0},{"d":"2025-10-23","s":2,"a":1.05,"b":0.2},{"d":"2025-11-06","s":2,"a":1.1,"b":0.35},{"d":"2025-11-20","s":2,"a":1.2,"b":0.45},{"d":"2025-12-04","s":2,"a":1.15,"b":0.5},{"d":"2025-12-18","s":2,"a":1.2,"b":0.6},{"d":"2025-12-31","s":2,"a":1.2,"b":0.6},
      {"d":"2025-10-01","s":3,"a":1,"b":0},{"d":"2025-10-23","s":3,"a":1,"b":0},{"d":"2025-11-06","s":3,"a":1.05,"b":-0.05},{"d":"2025-11-20","s":3,"a":1.05,"b":-0.02},{"d":"2025-12-04","s":3,"a":1,"b":0},{"d":"2025-12-18","s":3,"a":0.95,"b":0},{"d":"2025-12-31","s":3,"a":1,"b":-0.05},
      {"d":"2025-10-01","s":4,"a":1,"b":0},{"d":"2025-10-23","s":4,"a":0.98,"b":-0.02},{"d":"2025-11-06","s":4,"a":0.95,"b":-0.05},{"d":"2025-11-20","s":4,"a":0.95,"b":-0.05},{"d":"2025-12-04","s":4,"a":0.9,"b":-0.08},{"d":"2025-12-18","s":4,"a":0.92,"b":-0.1},{"d":"2025-12-31","s":4,"a":0.9,"b":-0.1},
      {"d":"2025-10-01","s":5,"a":1,"b":0},{"d":"2025-10-23","s":5,"a":0.95,"b":-0.05},{"d":"2025-11-06","s":5,"a":0.9,"b":-0.1},{"d":"2025-11-20","s":5,"a":0.85,"b":-0.15},{"d":"2025-12-04","s":5,"a":0.88,"b":-0.15},{"d":"2025-12-18","s":5,"a":0.9,"b":-0.18},{"d":"2025-12-31","s":5,"a":0.92,"b":-0.2},
      {"d":"2025-10-01","s":6,"a":1,"b":0},{"d":"2025-10-23","s":6,"a":0.95,"b":-0.05},{"d":"2025-11-06","s":6,"a":0.92,"b":-0.1},{"d":"2025-11-20","s":6,"a":0.95,"b":-0.1},{"d":"2025-12-04","s":6,"a":0.9,"b":-0.15},{"d":"2025-12-18","s":6,"a":0.88,"b":-0.15},{"d":"2025-12-31","s":6,"a":0.9,"b":-0.15},
      {"d":"2025-10-01","s":7,"a":1,"b":0},{"d":"2025-10-23","s":7,"a":1.02,"b":0.05},{"d":"2025-11-06","s":7,"a":1.05,"b":0.1},{"d":"2025-11-20","s":7,"a":1,"b":0.05},{"d":"2025-12-04","s":7,"a":0.95,"b":0},{"d":"2025-12-18","s":7,"a":0.9,"b":0},{"d":"2025-12-31","s":7,"a":0.85,"b":0.02},
      {"d":"2025-10-01","s":8,"a":1,"b":0},{"d":"2025-10-23","s":8,"a":1.05,"b":0.1},{"d":"2025-11-06","s":8,"a":1.1,"b":0.15},{"d":"2025-11-20","s":8,"a":1.05,"b":0.1},{"d":"2025-12-04","s":8,"a":1,"b":0.05},{"d":"2025-12-18","s":8,"a":0.95,"b":0.02},{"d":"2025-12-31","s":8,"a":1,"b":0.05},
      {"d":"2025-10-01","s":9,"a":1,"b":0},{"d":"2025-10-23","s":9,"a":0.95,"b":0},{"d":"2025-11-06","s":9,"a":0.9,"b":-0.05},{"d":"2025-11-20","s":9,"a":0.88,"b":-0.05},{"d":"2025-12-04","s":9,"a":0.85,"b":-0.1},{"d":"2025-12-18","s":9,"a":0.8,"b":-0.05},{"d":"2025-12-31","s":9,"a":0.8,"b":0},
      {"d":"2025-10-01","s":10,"a":1,"b":0},{"d":"2025-10-23","s":10,"a":1.05,"b":-0.02},{"d":"2025-11-06","s":10,"a":1,"b":-0.05},{"d":"2025-11-20","s":10,"a":0.95,"b":-0.08},{"d":"2025-12-04","s":10,"a":0.9,"b":-0.1},{"d":"2025-12-18","s":10,"a":0.85,"b":-0.1},{"d":"2025-12-31","s":10,"a":0.78,"b":-0.1},

      {"d":"2026-01-02","s":1,"a":1,"b":0},{"d":"2026-01-16","s":1,"a":0.95,"b":-0.05},{"d":"2026-01-30","s":1,"a":0.92,"b":-0.1},{"d":"2026-02-13","s":1,"a":0.9,"b":-0.12},{"d":"2026-02-27","s":1,"a":1,"b":-0.05},{"d":"2026-03-13","s":1,"a":1.3,"b":0.3},{"d":"2026-03-31","s":1,"a":1.25,"b":0.25},
      {"d":"2026-01-02","s":2,"a":1,"b":0},{"d":"2026-01-16","s":2,"a":0.95,"b":-0.05},{"d":"2026-01-30","s":2,"a":0.9,"b":-0.1},{"d":"2026-02-13","s":2,"a":0.9,"b":-0.15},{"d":"2026-02-27","s":2,"a":0.92,"b":-0.15},{"d":"2026-03-13","s":2,"a":0.95,"b":-0.1},{"d":"2026-03-31","s":2,"a":1,"b":-0.1},
      {"d":"2026-01-02","s":3,"a":1,"b":0},{"d":"2026-01-16","s":3,"a":0.98,"b":-0.02},{"d":"2026-01-30","s":3,"a":0.95,"b":-0.05},{"d":"2026-02-13","s":3,"a":0.95,"b":-0.1},{"d":"2026-02-27","s":3,"a":1,"b":-0.15},{"d":"2026-03-13","s":3,"a":1.05,"b":-0.15},{"d":"2026-03-31","s":3,"a":1.1,"b":-0.2},
      {"d":"2026-01-02","s":4,"a":1,"b":0},{"d":"2026-01-16","s":4,"a":1.05,"b":0.05},{"d":"2026-01-30","s":4,"a":1.4,"b":0.4},{"d":"2026-02-13","s":4,"a":2.1,"b":1.1},{"d":"2026-02-27","s":4,"a":2.7,"b":1.7},{"d":"2026-03-13","s":4,"a":3.3,"b":2.1},{"d":"2026-03-31","s":4,"a":3.4,"b":2.7},
      {"d":"2026-01-02","s":5,"a":1,"b":0},{"d":"2026-01-16","s":5,"a":1.05,"b":0.05},{"d":"2026-01-30","s":5,"a":1.15,"b":0.15},{"d":"2026-02-13","s":5,"a":1.3,"b":0.3},{"d":"2026-02-27","s":5,"a":1.5,"b":0.5},{"d":"2026-03-13","s":5,"a":1.7,"b":0.65},{"d":"2026-03-31","s":5,"a":1.65,"b":0.75},
      {"d":"2026-01-02","s":6,"a":1,"b":0},{"d":"2026-01-16","s":6,"a":1,"b":0},{"d":"2026-01-30","s":6,"a":1.05,"b":0.05},{"d":"2026-02-13","s":6,"a":1.1,"b":0.1},{"d":"2026-02-27","s":6,"a":1.2,"b":0.15},{"d":"2026-03-13","s":6,"a":1.3,"b":0.2},{"d":"2026-03-31","s":6,"a":1.3,"b":0.2},
      {"d":"2026-01-02","s":7,"a":1,"b":0},{"d":"2026-01-16","s":7,"a":1.05,"b":0},{"d":"2026-01-30","s":7,"a":1.1,"b":0.02},{"d":"2026-02-13","s":7,"a":1.15,"b":0.05},{"d":"2026-02-27","s":7,"a":1.2,"b":0.1},{"d":"2026-03-13","s":7,"a":1.25,"b":0.1},{"d":"2026-03-31","s":7,"a":1.2,"b":0.1},
      {"d":"2026-01-02","s":8,"a":1,"b":0},{"d":"2026-01-16","s":8,"a":1.05,"b":0},{"d":"2026-01-30","s":8,"a":1.1,"b":0.05},{"d":"2026-02-13","s":8,"a":1.3,"b":0.2},{"d":"2026-02-27","s":8,"a":1.8,"b":0.55},{"d":"2026-03-13","s":8,"a":1.6,"b":0.45},{"d":"2026-03-31","s":8,"a":1.5,"b":0.4},
      {"d":"2026-01-02","s":9,"a":1,"b":0},{"d":"2026-01-16","s":9,"a":0.98,"b":-0.05},{"d":"2026-01-30","s":9,"a":0.92,"b":-0.1},{"d":"2026-02-13","s":9,"a":0.9,"b":-0.15},{"d":"2026-02-27","s":9,"a":0.88,"b":-0.15},{"d":"2026-03-13","s":9,"a":0.85,"b":-0.2},{"d":"2026-03-31","s":9,"a":0.8,"b":-0.2},
      {"d":"2026-01-02","s":10,"a":1,"b":0},{"d":"2026-01-16","s":10,"a":0.95,"b":-0.05},{"d":"2026-01-30","s":10,"a":0.88,"b":-0.1},{"d":"2026-02-13","s":10,"a":0.85,"b":-0.15},{"d":"2026-02-27","s":10,"a":0.85,"b":-0.2},{"d":"2026-03-13","s":10,"a":0.8,"b":-0.25},{"d":"2026-03-31","s":10,"a":0.75,"b":-0.35}
    ],
    "hold": [
      {"q":"2023-06-30","s":1,"p":9.4},{"q":"2023-06-30","s":2,"p":9.3},{"q":"2023-06-30","s":3,"p":8.0},{"q":"2023-06-30","s":4,"p":7.1},{"q":"2023-06-30","s":5,"p":7.1},{"q":"2023-06-30","s":6,"p":7.0},{"q":"2023-06-30","s":7,"p":7.0},{"q":"2023-06-30","s":8,"p":6.2},{"q":"2023-06-30","s":9,"p":5.1},{"q":"2023-06-30","s":10,"p":4.6},
      {"q":"2023-09-30","s":1,"p":6.9},{"q":"2023-09-30","s":2,"p":6.9},{"q":"2023-09-30","s":3,"p":6.7},{"q":"2023-09-30","s":4,"p":6.2},{"q":"2023-09-30","s":5,"p":6.2},{"q":"2023-09-30","s":6,"p":6.1},{"q":"2023-09-30","s":7,"p":5.1},{"q":"2023-09-30","s":8,"p":3.8},{"q":"2023-09-30","s":9,"p":3.6},{"q":"2023-09-30","s":10,"p":3.1},
      {"q":"2023-12-31","s":1,"p":6.9},{"q":"2023-12-31","s":2,"p":6.9},{"q":"2023-12-31","s":3,"p":6.2},{"q":"2023-12-31","s":4,"p":5.7},{"q":"2023-12-31","s":5,"p":5.5},{"q":"2023-12-31","s":6,"p":5.5},{"q":"2023-12-31","s":7,"p":4.8},{"q":"2023-12-31","s":8,"p":4.7},{"q":"2023-12-31","s":9,"p":4.6},{"q":"2023-12-31","s":10,"p":3.8},
      {"q":"2024-03-31","s":1,"p":9.5},{"q":"2024-03-31","s":2,"p":9.2},{"q":"2024-03-31","s":3,"p":8.0},{"q":"2024-03-31","s":4,"p":6.9},{"q":"2024-03-31","s":5,"p":6.9},{"q":"2024-03-31","s":6,"p":6.9},{"q":"2024-03-31","s":7,"p":5.4},{"q":"2024-03-31","s":8,"p":4.4},{"q":"2024-03-31","s":9,"p":4.1},{"q":"2024-03-31","s":10,"p":4.1},
      {"q":"2024-06-30","s":1,"p":10.3},{"q":"2024-06-30","s":2,"p":10.0},{"q":"2024-06-30","s":3,"p":9.7},{"q":"2024-06-30","s":4,"p":8.2},{"q":"2024-06-30","s":5,"p":8.0},{"q":"2024-06-30","s":6,"p":6.9},{"q":"2024-06-30","s":7,"p":5.9},{"q":"2024-06-30","s":8,"p":5.1},{"q":"2024-06-30","s":9,"p":4.6},{"q":"2024-06-30","s":10,"p":4.1},
      {"q":"2024-09-30","s":1,"p":11.0},{"q":"2024-09-30","s":2,"p":9.0},{"q":"2024-09-30","s":3,"p":9.0},{"q":"2024-09-30","s":4,"p":8.7},{"q":"2024-09-30","s":5,"p":8.5},{"q":"2024-09-30","s":6,"p":7.6},{"q":"2024-09-30","s":7,"p":6.7},{"q":"2024-09-30","s":8,"p":6.7},{"q":"2024-09-30","s":9,"p":5.9},{"q":"2024-09-30","s":10,"p":5.1},
      {"q":"2024-12-31","s":1,"p":10.3},{"q":"2024-12-31","s":2,"p":8.4},{"q":"2024-12-31","s":3,"p":6.9},{"q":"2024-12-31","s":4,"p":5.9},{"q":"2024-12-31","s":5,"p":4.9},{"q":"2024-12-31","s":6,"p":4.5},{"q":"2024-12-31","s":7,"p":4.5},{"q":"2024-12-31","s":8,"p":4.3},{"q":"2024-12-31","s":9,"p":4.1},{"q":"2024-12-31","s":10,"p":3.1},
      {"q":"2025-03-31","s":1,"p":9.5},{"q":"2025-03-31","s":2,"p":8.7},{"q":"2025-03-31","s":3,"p":7.4},{"q":"2025-03-31","s":4,"p":6.7},{"q":"2025-03-31","s":5,"p":6.7},{"q":"2025-03-31","s":6,"p":5.1},{"q":"2025-03-31","s":7,"p":5.1},{"q":"2025-03-31","s":8,"p":4.6},{"q":"2025-03-31","s":9,"p":4.4},{"q":"2025-03-31","s":10,"p":4.1},
      {"q":"2025-06-30","s":1,"p":11.0},{"q":"2025-06-30","s":2,"p":10.5},{"q":"2025-06-30","s":3,"p":9.3},{"q":"2025-06-30","s":4,"p":8.2},{"q":"2025-06-30","s":5,"p":6.4},{"q":"2025-06-30","s":6,"p":6.4},{"q":"2025-06-30","s":7,"p":5.9},{"q":"2025-06-30","s":8,"p":5.1},{"q":"2025-06-30","s":9,"p":5.1},{"q":"2025-06-30","s":10,"p":4.4},
      {"q":"2025-09-30","s":1,"p":9.3},{"q":"2025-09-30","s":2,"p":9.2},{"q":"2025-09-30","s":3,"p":8.9},{"q":"2025-09-30","s":4,"p":8.6},{"q":"2025-09-30","s":5,"p":8.6},{"q":"2025-09-30","s":6,"p":7.5},{"q":"2025-09-30","s":7,"p":6.4},{"q":"2025-09-30","s":8,"p":5.3},{"q":"2025-09-30","s":9,"p":5.2},{"q":"2025-09-30","s":10,"p":5.1},
      {"q":"2025-12-31","s":1,"p":10.0},{"q":"2025-12-31","s":2,"p":10.0},{"q":"2025-12-31","s":3,"p":8.7},{"q":"2025-12-31","s":4,"p":6.7},{"q":"2025-12-31","s":5,"p":6.4},{"q":"2025-12-31","s":6,"p":6.4},{"q":"2025-12-31","s":7,"p":5.6},{"q":"2025-12-31","s":8,"p":5.2},{"q":"2025-12-31","s":9,"p":4.8},{"q":"2025-12-31","s":10,"p":4.1},
      {"q":"2026-03-31","s":1,"p":10.5},{"q":"2026-03-31","s":2,"p":10.5},{"q":"2026-03-31","s":3,"p":10.0},{"q":"2026-03-31","s":4,"p":10.0},{"q":"2026-03-31","s":5,"p":6.9},{"q":"2026-03-31","s":6,"p":5.9},{"q":"2026-03-31","s":7,"p":5.7},{"q":"2026-03-31","s":8,"p":5.6},{"q":"2026-03-31","s":9,"p":4.6},{"q":"2026-03-31","s":10,"p":4.4}
    ]
  },
  "vconcat": [
    {
      "width": 1043,
      "height": 217,
      "layer": [
        {
          "data": {"name": "px"},
          "mark": {"type": "line", "strokeWidth": 1.1, "opacity": 0.85, "clip": true},
          "encoding": {
            "x": {"field": "d", "type": "temporal",
              "scale": {"type": "utc", "nice": false, "domain": [{"year": 2023, "month": 5, "date": 11, "utc": true}, {"year": 2026, "month": 5, "date": 16, "utc": true}]},
              "axis": {"title": null, "grid": true, "gridColor": "#dddddd", "gridDash": [2, 2], "gridWidth": 0.8, "labelFontSize": 11, "labelPadding": 3, "labelFlush": false, "labelOverlap": false,
                "values": [{"year":2023,"month":6,"date":30,"utc":true},{"year":2023,"month":9,"date":30,"utc":true},{"year":2023,"month":12,"date":31,"utc":true},{"year":2024,"month":3,"date":31,"utc":true},{"year":2024,"month":6,"date":30,"utc":true},{"year":2024,"month":9,"date":30,"utc":true},{"year":2024,"month":12,"date":31,"utc":true},{"year":2025,"month":3,"date":31,"utc":true},{"year":2025,"month":6,"date":30,"utc":true},{"year":2025,"month":9,"date":30,"utc":true},{"year":2025,"month":12,"date":31,"utc":true},{"year":2026,"month":3,"date":31,"utc":true}],
                "labelExpr": "utcyear(datum.value) + 'Q' + (floor(utcmonth(datum.value) / 3) + 1)"}},
            "y": {"field": "a", "type": "quantitative",
              "scale": {"domain": [0.46, 4.58], "nice": false, "zero": false},
              "axis": {"values": [1, 2, 3, 4], "format": "d", "grid": false, "labelFontSize": 11.5, "labelPadding": 8, "title": "标准化价格（起点=1）", "titleFontSize": 14, "titleX": -28, "titleBaseline": "middle"}},
            "color": {"field": "s", "type": "nominal",
              "scale": {"domain": [1, 2, 3, 4, 5, 6, 7, 8, 9, 10], "range": ["#b40426", "#da5a49", "#f18e71", "#f7b89c", "#ead4c8", "#cedaec", "#aac7fd", "#83a6fb", "#5d7ce6", "#3b4cc0"]},
              "legend": {"orient": "none", "legendX": 851, "legendY": 4, "columns": 2, "direction": "vertical", "title": null,
                "symbolType": "M-2,0H2", "symbolSize": 100, "symbolStrokeWidth": 3, "symbolOpacity": 1,
                "labelFontSize": 9, "labelColor": "#333333", "labelOffset": 11, "columnPadding": 12, "rowPadding": 0.2,
                "padding": 4, "strokeColor": "#cccccc", "fillColor": "#ffffff", "cornerRadius": 3,
                "labelExpr": "'第' + datum.label + '大重仓股'"}},
            "detail": {"field": "d", "type": "temporal", "timeUnit": "utcyearquarter"}
          }
        },
        {
          "data": {"values": [{"y": 1}]},
          "mark": {"type": "rule", "color": "#555555", "strokeWidth": 1.4},
          "encoding": {"y": {"field": "y", "type": "quantitative", "scale": {"domain": [0.46, 4.58], "nice": false, "zero": false}}}
        }
      ]
    },
    {
      "width": 1043,
      "height": 217,
      "layer": [
        {
          "data": {"name": "px"},
          "mark": {"type": "line", "strokeWidth": 1.1, "opacity": 0.85, "clip": true},
          "encoding": {
            "x": {"field": "d", "type": "temporal",
              "scale": {"type": "utc", "nice": false, "domain": [{"year": 2023, "month": 5, "date": 11, "utc": true}, {"year": 2026, "month": 5, "date": 16, "utc": true}]},
              "axis": {"title": null, "grid": true, "gridColor": "#dddddd", "gridDash": [2, 2], "gridWidth": 0.8, "labelFontSize": 11, "labelPadding": 3, "labelFlush": false, "labelOverlap": false,
                "values": [{"year":2023,"month":6,"date":30,"utc":true},{"year":2023,"month":9,"date":30,"utc":true},{"year":2023,"month":12,"date":31,"utc":true},{"year":2024,"month":3,"date":31,"utc":true},{"year":2024,"month":6,"date":30,"utc":true},{"year":2024,"month":9,"date":30,"utc":true},{"year":2024,"month":12,"date":31,"utc":true},{"year":2025,"month":3,"date":31,"utc":true},{"year":2025,"month":6,"date":30,"utc":true},{"year":2025,"month":9,"date":30,"utc":true},{"year":2025,"month":12,"date":31,"utc":true},{"year":2026,"month":3,"date":31,"utc":true}],
                "labelExpr": "utcyear(datum.value) + 'Q' + (floor(utcmonth(datum.value) / 3) + 1)"}},
            "y": {"field": "b", "type": "quantitative",
              "scale": {"domain": [-0.63, 3.43], "nice": false, "zero": false},
              "axis": {"values": [0, 1, 2, 3], "format": "d", "grid": false, "labelFontSize": 11.5, "labelPadding": 8, "title": "相对二级行业指数强弱线", "titleFontSize": 14, "titleX": -29, "titleBaseline": "middle"}},
            "color": {"field": "s", "type": "nominal",
              "scale": {"domain": [1, 2, 3, 4, 5, 6, 7, 8, 9, 10], "range": ["#b40426", "#da5a49", "#f18e71", "#f7b89c", "#ead4c8", "#cedaec", "#aac7fd", "#83a6fb", "#5d7ce6", "#3b4cc0"]},
              "legend": null},
            "detail": {"field": "d", "type": "temporal", "timeUnit": "utcyearquarter"}
          }
        },
        {
          "data": {"values": [{"y": 0}]},
          "mark": {"type": "rule", "color": "#555555", "strokeWidth": 1.4},
          "encoding": {"y": {"field": "y", "type": "quantitative", "scale": {"domain": [-0.63, 3.43], "nice": false, "zero": false}}}
        }
      ]
    },
    {
      "width": 1043,
      "height": 130,
      "data": {"name": "hold"},
      "mark": {"type": "bar", "size": 18, "opacity": 0.75, "stroke": "#ffffff", "strokeWidth": 0.8},
      "encoding": {
        "x": {"field": "q", "type": "temporal",
          "scale": {"type": "utc", "nice": false, "domain": [{"year": 2023, "month": 5, "date": 11, "utc": true}, {"year": 2026, "month": 5, "date": 16, "utc": true}]},
          "axis": {"title": "日期", "titleFontSize": 15, "titlePadding": 6, "grid": true, "gridColor": "#d6d6d6", "gridDash": [3, 3], "gridWidth": 0.8, "labelFontSize": 11, "labelAngle": -45, "labelPadding": 4, "labelFlush": false, "labelOverlap": false,
            "values": [{"year":2023,"month":6,"date":30,"utc":true},{"year":2023,"month":9,"date":30,"utc":true},{"year":2023,"month":12,"date":31,"utc":true},{"year":2024,"month":3,"date":31,"utc":true},{"year":2024,"month":6,"date":30,"utc":true},{"year":2024,"month":9,"date":30,"utc":true},{"year":2024,"month":12,"date":31,"utc":true},{"year":2025,"month":3,"date":31,"utc":true},{"year":2025,"month":6,"date":30,"utc":true},{"year":2025,"month":9,"date":30,"utc":true},{"year":2025,"month":12,"date":31,"utc":true},{"year":2026,"month":3,"date":31,"utc":true}],
            "labelExpr": "utcyear(datum.value) + 'Q' + (floor(utcmonth(datum.value) / 3) + 1)"}},
        "y": {"field": "p", "type": "quantitative", "stack": "zero",
          "scale": {"domain": [0, 100], "nice": false},
          "axis": {"values": [0, 20, 40, 60, 80, 100], "grid": true, "gridColor": "#d6d6d6", "gridDash": [3, 3], "gridWidth": 0.8, "labelFontSize": 11.5, "labelPadding": 6, "title": "持仓比例 (%)", "titleFontSize": 14, "titleX": -40, "titleBaseline": "middle"}},
        "color": {"field": "s", "type": "nominal",
          "scale": {"domain": [1, 2, 3, 4, 5, 6, 7, 8, 9, 10], "range": ["#b40426", "#da5a49", "#f18e71", "#f7b89c", "#ead4c8", "#cedaec", "#aac7fd", "#83a6fb", "#5d7ce6", "#3b4cc0"]},
          "legend": null},
        "order": {"field": "s", "type": "quantitative", "sort": "ascending"}
      }
    }
  ]
}
